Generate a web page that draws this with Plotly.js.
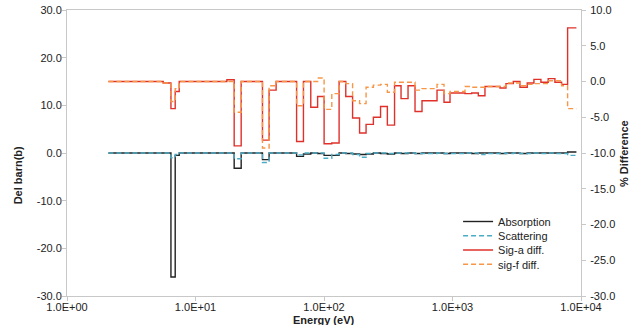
<!DOCTYPE html>
<html>
<head>
<meta charset="utf-8">
<script src="https://cdn.plot.ly/plotly-3.0.1.min.js"></script>
<style>html,body{margin:0;padding:0;background:#fff;}#chart{width:640px;height:325px;}</style>
</head>
<body>
<div id="chart"></div>
<script>
// Group boundaries (eV)
const energy = [2.1, 5.61, 6.44, 6.95, 7.47, 17.55, 20.0, 22.67, 33.2, 37.4, 42.4, 61.2, 69.2, 78.9, 89.2, 100.2, 115.0, 131.1, 147.7, 166.9, 189.2, 212.5, 242.2, 275.5, 311.2, 354.0, 397.7, 450.8, 510.9, 579.1, 757.8, 858.9, 956.3, 1251, 1410, 1588, 1789, 2341, 2606, 2971, 3349, 3816, 4302, 4877, 5557, 6266, 7066, 7867, 9210];
// Del barn (b) per group
const absorption = [0, 0, -26.0, -0.5, 0, 0, -3.2, 0, -1.4, 0, 0, -0.7, -0.2, 0, -0.1, -0.5, -0.5, 0, -0.1, -0.2, -0.3, -0.2, 0, -0.1, -0.2, 0, -0.1, 0, -0.1, 0, 0, -0.1, 0, 0, -0.1, 0, 0, -0.1, 0, 0, -0.1, 0, 0, 0, 0, 0, 0, 0.2];
const scattering = [0, 0, -1.0, -0.3, 0, 0, -1.2, 0, -2.0, 0, 0, -0.4, 0, 0, 0, -1.1, -0.3, 0, 0, -0.3, -0.9, -0.1, 0, 0, -0.1, 0, 0, 0, -0.1, -0.1, 0, -0.1, -0.1, 0, 0, -0.3, -0.1, 0, -0.1, 0, -0.1, -0.1, 0, -0.1, 0, -0.1, -0.1, -0.5];
// % Difference per group
const sigADiff = [0, -0.2, -3.8, -1.4, 0, 0.25, -9.0, 0, -8.2, -1.2, 0, -8.4, 0, -3.6, -2.1, -8.7, -8.6, 0, -2.1, -5.1, -7.2, -6.0, -5.0, -3.5, -6.1, -0.6, -2.4, -0.6, -4.2, -2.7, -1.2, -2.9, -1.6, -1.7, -1.6, -2.0, -0.7, -0.9, -0.3, 0.0, -0.8, -0.2, 0.3, -0.1, 0.4, -0.1, -0.4, 7.5];
const sigFDiff = [0, -0.2, -2.8, -1.0, 0, 0, -4.3, 0, -9.3, -0.6, 0, -3.4, 0, 0, 0.5, -3.9, -1.7, 0, -0.3, -2.7, -3.1, -0.8, -0.5, -0.4, -1.5, -0.1, -0.1, -0.1, -1.2, -1.0, -0.4, -1.7, -1.4, -0.7, -0.8, -0.8, -0.7, -0.7, -0.2, -0.2, -0.6, -0.4, -0.3, -0.3, 0.1, 0.1, -0.6, -3.8];

const seriesNames = ['Absorption', 'Scattering', 'Sig-a diff.', 'sig-f diff.'];
const xTickVals = [1, 10, 100, 1000, 10000];
const xTickText = ['1.0E+00', '1.0E+01', '1.0E+02', '1.0E+03', '1.0E+04'];
const yLeftTickVals = [-30, -20, -10, 0, 10, 20, 30];
const yLeftTickText = ['-30.0', '-20.0', '-10.0', '0.0', '10.0', '20.0', '30.0'];
const yRightTickVals = [-30, -25, -20, -15, -10, -5, 0, 5, 10];
const yRightTickText = ['-30.0', '-25.0', '-20.0', '-15.0', '-10.0', '-5.0', '0.0', '5.0', '10.0'];

function stepY(v) { return v.concat([v[v.length - 1]]); }

const FONT = 'Liberation Sans, Arial, sans-serif';
const traces = [
  {x: energy, y: stepY(absorption), name: seriesNames[0], yaxis: 'y', legend: 'legend',
   mode: 'lines', line: {shape: 'hv', color: '#222222', width: 1.4}},
  {x: energy, y: stepY(scattering), name: seriesNames[1], yaxis: 'y', legend: 'legend2',
   mode: 'lines', line: {shape: 'hv', color: '#4BACC6', width: 1.4, dash: '5px,3px'}},
  {x: energy, y: stepY(sigADiff), name: seriesNames[2], yaxis: 'y2', legend: 'legend3',
   mode: 'lines', line: {shape: 'hv', color: '#E0302A', width: 1.4}},
  {x: energy, y: stepY(sigFDiff), name: seriesNames[3], yaxis: 'y2', legend: 'legend4',
   mode: 'lines', line: {shape: 'hv', color: '#F79646', width: 1.4, dash: '5px,3px'}}
];

const plotL = 66.7, plotR = 581, plotT = 10, plotB = 296;
const px = p => (p - plotL) / (plotR - plotL);
const py = p => (plotB - p) / (plotB - plotT);
function leg(yc) {
  return {x: px(458), y: py(yc), xanchor: 'left', yanchor: 'middle', bgcolor: 'rgba(0,0,0,0)',
          borderwidth: 0, font: {family: FONT, size: 11, color: '#222'}};
}
const axisCommon = {showgrid: false, zeroline: false, showline: true, linecolor: '#C8C8C8', linewidth: 1,
  ticks: 'outside', ticklen: 4, tickcolor: '#C8C8C8', tickfont: {family: FONT, size: 11, color: '#222'}};

const layout = {
  width: 640, height: 325,
  margin: {l: plotL, r: 640 - plotR, t: plotT, b: 325 - plotB, pad: 0},
  paper_bgcolor: '#fff', plot_bgcolor: '#fff',
  showlegend: true,
  legend: leg(221.5), legend2: leg(235.7), legend3: leg(250), legend4: leg(264.3),
  xaxis: Object.assign({}, axisCommon, {type: 'log', range: [0, 4], tickvals: xTickVals, ticktext: xTickText,
    mirror: true, ticklabelstandoff: -3}),
  yaxis: Object.assign({}, axisCommon, {range: [-30, 30], tickvals: yLeftTickVals, ticktext: yLeftTickText,
    ticklabelstandoff: -2}),
  yaxis2: Object.assign({}, axisCommon, {range: [-30, 10], tickvals: yRightTickVals, ticktext: yRightTickText,
    overlaying: 'y', side: 'right', ticklabelstandoff: 2}),
  annotations: [
    {text: '<b>Energy (eV)</b>', xref: 'paper', yref: 'paper', x: px(323), y: py(319.5), showarrow: false,
     xanchor: 'center', yanchor: 'middle', font: {family: FONT, size: 11, color: '#222'}},
    {text: '<b>Del barn(b)</b>', xref: 'paper', yref: 'paper', x: px(18), y: py(175), showarrow: false, textangle: -90,
     xanchor: 'center', yanchor: 'middle', font: {family: FONT, size: 11, color: '#222'}},
    {text: '<b>% Difference</b>', xref: 'paper', yref: 'paper', x: px(624), y: py(153), showarrow: false, textangle: -90,
     xanchor: 'center', yanchor: 'middle', font: {family: FONT, size: 11, color: '#222'}}
  ]
};

Plotly.newPlot('chart', traces, layout, {displayModeBar: false, staticPlot: true});
</script>
</body>
</html>
